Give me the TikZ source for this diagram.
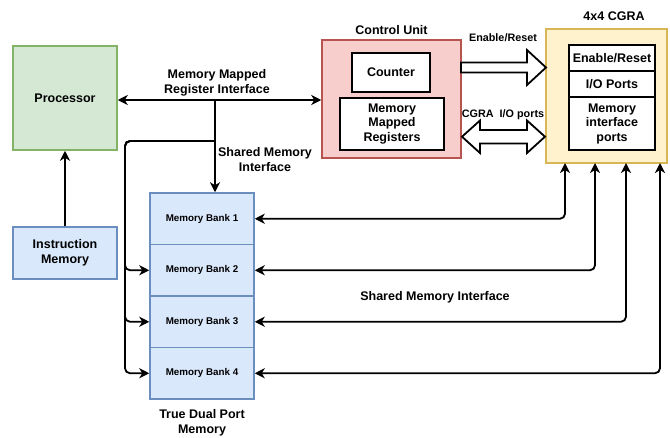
\documentclass[tikz,border=0pt]{standalone}
\usepackage{fontspec}
\setmainfont{Liberation Sans}
\usetikzlibrary{arrows.meta,calc}
\definecolor{pgreen}{HTML}{D5E8D4}\definecolor{sgreen}{HTML}{82B366}
\definecolor{pblue}{HTML}{DAE8FC}\definecolor{sblue}{HTML}{6C8EBF}
\definecolor{pred}{HTML}{F8CECC}\definecolor{sred}{HTML}{B85450}
\definecolor{pyel}{HTML}{FFF2CC}\definecolor{syel}{HTML}{D6B656}
\begin{document}
\begin{tikzpicture}[x=1pt,y=-1pt,
  box/.style={rectangle,inner sep=0pt,line width=1.5pt,align=center,font=\bfseries\fontsize{12.5}{14.5}\selectfont},
  greenbox/.style={box,fill=pgreen,draw=sgreen},
  bluebox/.style={box,fill=pblue,draw=sblue},
  redbox/.style={box,fill=pred,draw=sred},
  yelbox/.style={box,fill=pyel,draw=syel},
  whitebox/.style={box,fill=white,draw=black,line width=2pt},
  bank/.style={bluebox,minimum width=104pt,minimum height=51.5pt,font=\bfseries\fontsize{9.8}{11}\selectfont},
  lbl/.style={align=center,inner sep=0pt,font=\bfseries\fontsize{12.5}{14.5}\selectfont},
  slbl/.style={align=center,inner sep=0pt,font=\bfseries\fontsize{10.8}{12}\selectfont},
  conn/.style={line width=1.8pt,rounded corners=5pt},
  tip/.tip={Stealth[length=10pt,width=10pt,inset=3pt]},
  blockarrow/.style={fill=white,draw=black,line width=1.8pt,line join=miter}
]
\useasboundingbox (0,0) rectangle (670,437);

% Processor and instruction memory
\node[greenbox,minimum width=104pt,minimum height=104pt] (proc) at (65,98) {Processor};
\node[bluebox,minimum width=104pt,minimum height=52pt] (imem) at (65,253) {Instruction\\Memory};

% Memory banks
\node[bank] (b1) at (202,218.75) {Memory Bank 1};
\node[bank] (b2) at (202,270.25) {Memory Bank 2};
\node[bank] (b3) at (202,321.75) {Memory Bank 3};
\node[bank] (b4) at (202,373.25) {Memory Bank 4};
\node[lbl] (tdp) at (202,423) {True Dual Port\\Memory};

% Control unit
\node[redbox,minimum width=139pt,minimum height=118pt] (cu) at (391.5,99) {};
\node[lbl] (cut) at (391.5,30) {Control Unit};
\node[whitebox,minimum width=78pt,minimum height=39pt] (cnt) at (391,72.5) {Counter};
\node[whitebox,minimum width=104pt,minimum height=52pt] (mmr) at (392,124) {Memory\\Mapped\\Registers};

% CGRA
\node[yelbox,minimum width=121pt,minimum height=134pt] (cgra) at (606.5,96) {};
\node[lbl] (cgrat) at (614,16) {4x4 CGRA};
\node[whitebox,minimum width=86pt,minimum height=26pt] (er) at (612,58) {Enable/Reset};
\node[whitebox,minimum width=86pt,minimum height=26pt] (io) at (612,84) {I/O Ports};
\node[whitebox,minimum width=86pt,minimum height=53pt] (mip) at (612,123.5) {Memory\\interface\\ports};

% Memory mapped register interface
\coordinate (j0) at (215,100);
\coordinate (j1) at (215,141);
\coordinate (vx) at (125,141);
\draw[conn,tip-tip] (proc.east |- j0) -- (cu.west |- j0);
\draw[conn,-tip] (j0) -- (j0 |- b1.north);
\node[lbl] (mmrl) at (217,83) {Memory Mapped\\Register Interface};
\node[lbl] (smil) at (265,159.5) {Shared Memory\\Interface};

% branches to banks 2-4
\draw[conn,-tip] (j1) -- (vx) -- (vx |- b2.west) -- (b2.west);
\draw[conn,-tip] (j1) -- (vx) -- (vx |- b3.west) -- (b3.west);
\draw[conn,-tip] (j1) -- (vx) -- (vx |- b4.west) -- (b4.west);

% instruction memory to processor
\draw[conn,-tip] (imem.north) -- (proc.south);

% CGRA to banks
\coordinate (p1) at (565,163);
\coordinate (p2) at (595,163);
\coordinate (p3) at (626,163);
\coordinate (p4) at (660,163);
\draw[conn,tip-tip] (b1.east) -- (p1 |- b1.east) -- (p1);
\draw[conn,tip-tip] (b2.east) -- (p2 |- b2.east) -- (p2);
\draw[conn,tip-tip] (b3.east) -- (p3 |- b3.east) -- (p3);
\draw[conn,tip-tip] (b4.east) -- (p4 |- b4.east) -- (p4);
\node[lbl] (smi) at (435,297) {Shared Memory Interface};

% block arrows
\draw[blockarrow] (461,62.5) -- (527,62.5) -- (527,50) -- (546,67.5) -- (527,85) -- (527,72.5) -- (461,72.5) -- cycle;
\node[slbl] (erl) at (503,38) {Enable/Reset};
\draw[blockarrow] (462,136.7) -- (480,120.5) -- (480,130) -- (527,130) -- (527,120.5) -- (545,136.7) -- (527,153) -- (527,143.5) -- (480,143.5) -- (480,153) -- cycle;
\node[slbl] (iol) at (503,115) {CGRA\ \ I/O ports};
\end{tikzpicture}
\end{document}
